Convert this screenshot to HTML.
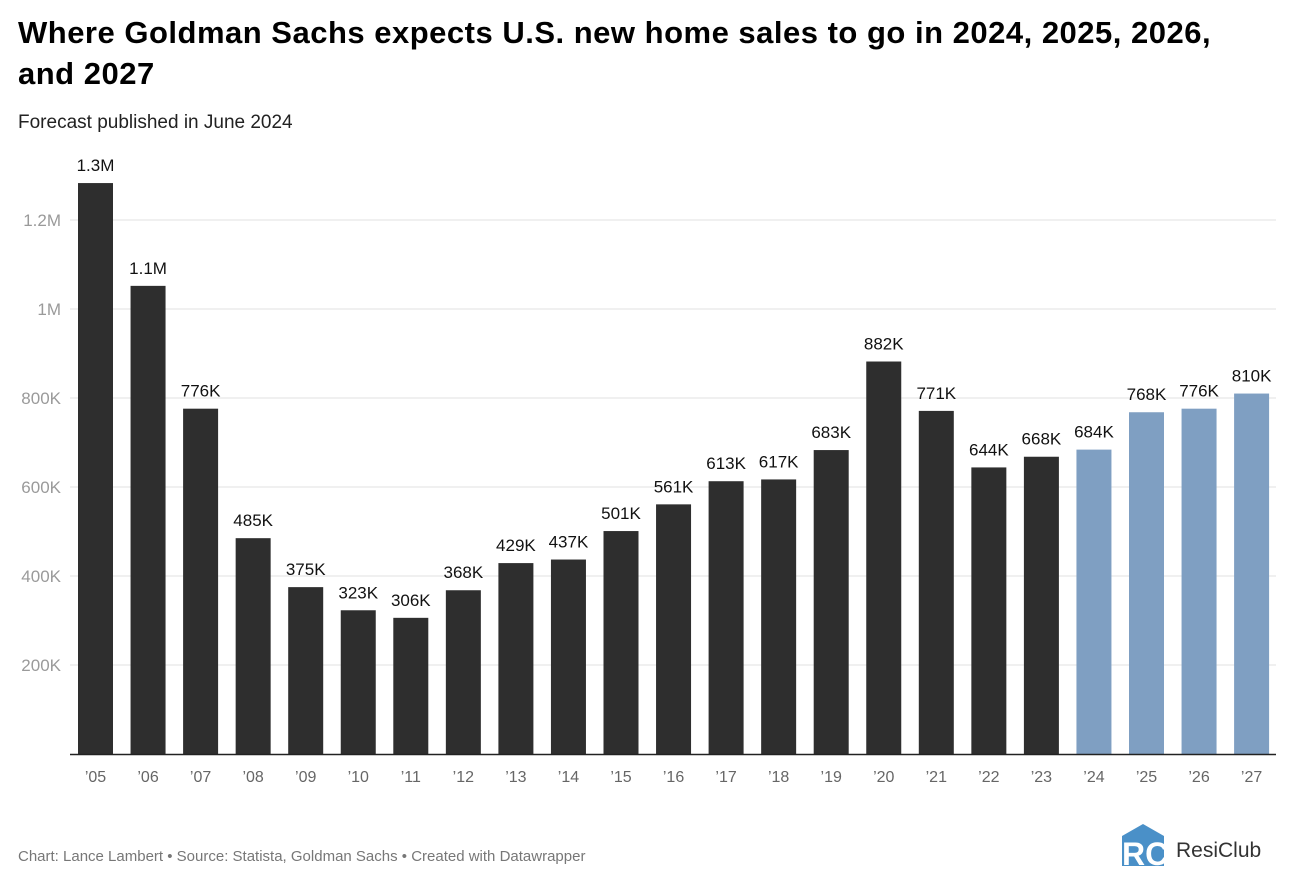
<!DOCTYPE html>
<html><head><meta charset="utf-8">
<style>
body{margin:0;background:#fff;width:1292px;height:885px;overflow:hidden;font-family:"Liberation Sans",sans-serif;}
#title{position:absolute;left:18px;top:12px;font-size:31px;font-weight:bold;color:#000;line-height:41px;width:1235px;letter-spacing:0.5px}
#sub{position:absolute;left:18px;top:112px;font-size:19px;color:#222}
#foot{position:absolute;left:18px;top:848px;font-size:15px;color:#777}
#logo{position:absolute;left:1120px;top:822px}
</style></head><body>
<div id="title">Where Goldman Sachs expects U.S. new home sales to go in 2024, 2025, 2026, and 2027</div>
<div id="sub">Forecast published in June 2024</div>
<svg id="chart" width="1292" height="885" style="position:absolute;left:0;top:0"></svg>
<div id="foot">Chart: Lance Lambert • Source: Statista, Goldman Sachs • Created with Datawrapper</div>
<svg id="logo" width="170" height="50">
<polygon points="2,14 23,2 44,14 44,44 2,44" fill="#4a90c8"/>
<text x="2" y="43" font-size="32" font-weight="bold" fill="#fff" font-family="Liberation Sans">RC</text>
<text x="56" y="35" font-size="21" fill="#333" font-family="Liberation Sans">ResiClub</text>
</svg>
<script>
const categories=["’05","’06","’07","’08","’09","’10","’11","’12","’13","’14","’15","’16","’17","’18","’19","’20","’21","’22","’23","’24","’25","’26","’27"];
const values=[1283,1052,776,485,375,323,306,368,429,437,501,561,613,617,683,882,771,644,668,684,768,776,810];
const valueLabels=["1.3M","1.1M","776K","485K","375K","323K","306K","368K","429K","437K","501K","561K","613K","617K","683K","882K","771K","644K","668K","684K","768K","776K","810K"];
const forecast=[0,0,0,0,0,0,0,0,0,0,0,0,0,0,0,0,0,0,0,1,1,1,1];
const ticks=[200,400,600,800,1000,1200];
const tickLabels=["200K","400K","600K","800K","1M","1.2M"];
const svg=document.getElementById('chart');const NS="http://www.w3.org/2000/svg";
const y0=754,pxPerK=0.445,x0=78,step=52.55,bw=35;
const y=v=>y0-v*pxPerK, x=i=>x0+i*step;
function mk(t,a,txt){const e=document.createElementNS(NS,t);for(const k in a)e.setAttribute(k,a[k]);if(txt!=null)e.textContent=txt;svg.appendChild(e);return e;}
ticks.forEach((t,i)=>{
 const l=mk('line',{x1:70,x2:1276,y1:y(t),y2:y(t),stroke:'#e2e2e2','stroke-width':1});
 
 
 const tx=mk('text',{x:61,y:y(t)+6,'text-anchor':'end','font-size':17,fill:'#9a9a9a','font-family':'Liberation Sans'},tickLabels[i]);
 
 
});
values.forEach((v,i)=>{
 const r=mk('rect',{x:x(i),y:y(v),width:bw,height:v*pxPerK,fill:forecast[i]?'#7f9fc2':'#2e2e2e'});
 
 
 const t=mk('text',{x:x(i)+bw/2,y:y(v)-12,'text-anchor':'middle','font-size':17,fill:'#111','font-family':'Liberation Sans'},valueLabels[i]);
 
 
 const c=mk('text',{x:x(i)+bw/2,y:782,'text-anchor':'middle','font-size':16,fill:'#666','font-family':'Liberation Sans'},categories[i]);
 
 
});
const ax=mk('line',{x1:70,x2:1276,y1:y0+0.5,y2:y0+0.5,stroke:'#222','stroke-width':1.5});


</script>
</body></html>
